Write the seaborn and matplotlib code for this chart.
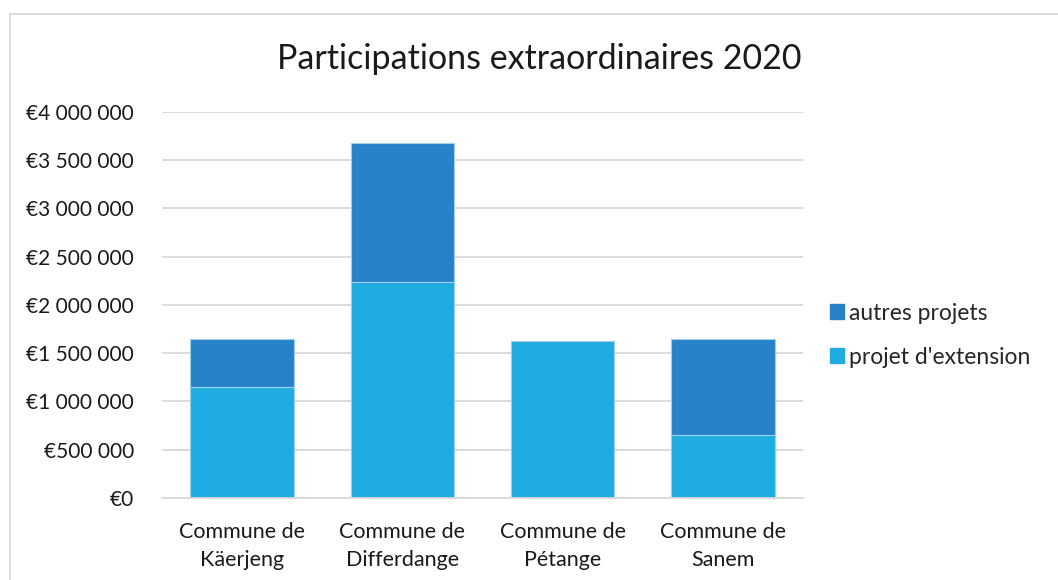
import matplotlib.pyplot as plt
import matplotlib.ticker as mticker
from matplotlib.patches import Patch, Rectangle
import pandas as pd
import seaborn as sns

# Data
communes = ['Commune de\nKäerjeng', 'Commune de\nDifferdange', 'Commune de\nPétange', 'Commune de\nSanem']
projet_extension = [1147000, 2235000, 1627000, 653000]
autres_projets = [501000, 1444000, 0, 998000]

df = pd.DataFrame({'commune': communes,
                   'extension': projet_extension,
                   'autres': autres_projets})
df['total'] = df['extension'] + df['autres']

c_ext = '#1EACE2'
c_autres = '#2882C8'

sns.set_style('white')
plt.rcParams['font.family'] = ['Lato', 'DejaVu Sans']

fig = plt.figure(figsize=(10.58, 5.8), dpi=100)
ax = fig.add_axes([0.153, 0.1414, 0.606, 0.6655])

# stacked: total first (dark), then extension over it (light)
sns.barplot(data=df, x='commune', y='total', color=c_autres, saturation=1,
            width=0.645, edgecolor='#9fd0ee', linewidth=0.8, ax=ax)
sns.barplot(data=df, x='commune', y='extension', color=c_ext, saturation=1,
            width=0.645, edgecolor='#9fd0ee', linewidth=0.8, ax=ax)

ax.set_ylim(0, 4000000)
ax.set_xlim(-0.5, 3.5)
ax.yaxis.set_major_locator(mticker.MultipleLocator(500000))
ax.yaxis.set_major_formatter(mticker.FuncFormatter(
    lambda v, p: '€' + f'{int(v):,}'.replace(',', ' ')))
ax.grid(axis='y', color='#d9d9d9', linewidth=1.3)
ax.set_axisbelow(True)
for s in ['top', 'right', 'left']:
    ax.spines[s].set_visible(False)
ax.spines['bottom'].set_color('#d9d9d9')
ax.spines['bottom'].set_linewidth(1.3)
ax.tick_params(axis='both', length=0, colors='#1a1a1a')
ax.tick_params(axis='y', pad=20, labelsize=15)
ax.tick_params(axis='x', pad=17, labelsize=15.5)
for lbl in ax.get_xticklabels():
    lbl.set_linespacing(1.55)
ax.set_xlabel('')
ax.set_ylabel('')

fig.text(0.51, 0.898, 'Participations extraordinaires 2020', ha='center',
         va='center', fontsize=24.5, color='#1a1a1a')

handles = [Patch(color=c_autres, label='autres projets'),
           Patch(color=c_ext, label="projet d'extension")]
fig.legend(handles=handles, loc='center left', bbox_to_anchor=(0.765, 0.422),
           frameon=False, fontsize=16.5, handlelength=0.6, handleheight=0.6,
           handletextpad=0.25, labelspacing=1.0)

# chart border (top and left visible)
fig.patches.append(Rectangle((0.0095, -0.05), 1.1, 1.026, transform=fig.transFigure,
                             fill=False, edgecolor='#d9d9d9', linewidth=1.3))

fig.savefig('out.png', dpi=100)
